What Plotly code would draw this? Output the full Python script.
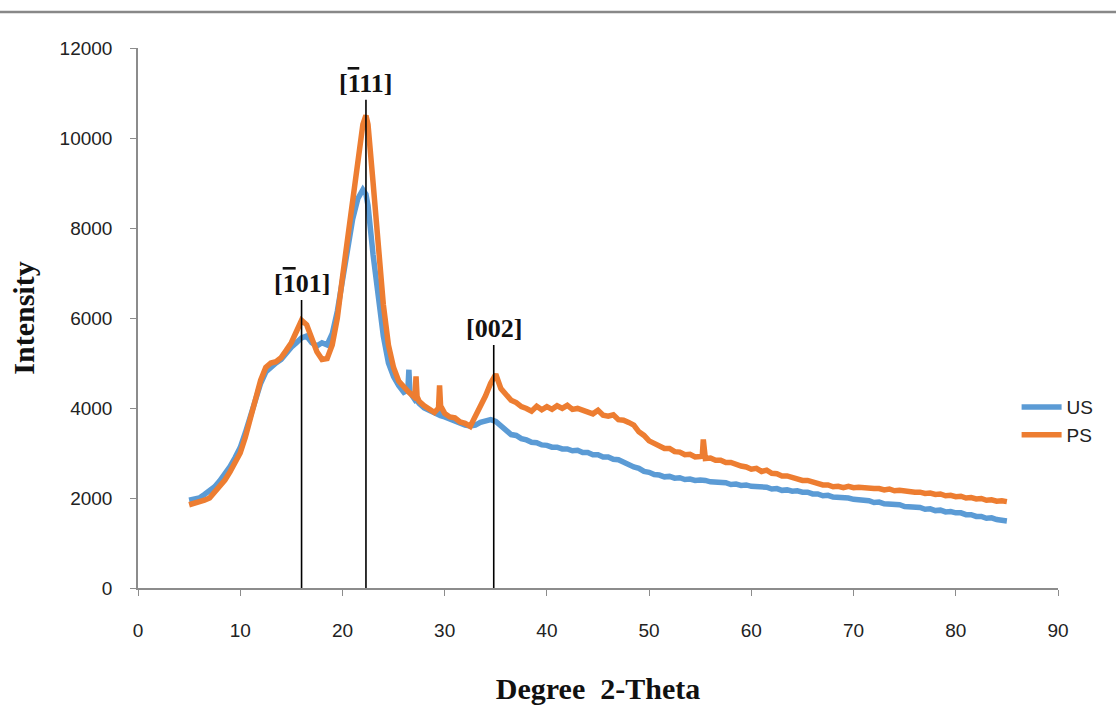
import plotly.graph_objects as go

# 2-theta positions (degrees)
two_theta = [
    5.0, 5.5, 6.0, 6.5, 7.0, 7.5, 8.0, 8.5, 9.0, 9.5,
    10.0, 10.5, 11.0, 11.5, 12.0, 12.5, 13.0, 13.5, 14.0, 14.5,
    15.0, 15.5, 16.0, 16.5, 17.0, 17.5, 18.0, 18.5, 19.0, 19.5,
    20.0, 20.5, 21.0, 21.5, 22.0, 22.3, 22.5, 23.0, 23.5, 24.0,
    24.5, 25.0, 25.5, 26.0, 26.4, 26.5, 26.6, 27.0, 27.1, 27.2,
    27.3, 27.5, 28.0, 28.5, 29.0, 29.4, 29.5, 29.6, 30.0, 30.5,
    31.0, 31.5, 32.0, 32.5, 33.0, 33.5, 34.0, 34.5, 35.0, 35.5,
    36.0, 36.5, 37.0, 37.5, 38.0, 38.5, 39.0, 39.5, 40.0, 40.5,
    41.0, 41.5, 42.0, 42.5, 43.0, 43.5, 44.0, 44.5, 45.0, 45.5,
    46.0, 46.5, 47.0, 47.5, 48.0, 48.5, 49.0, 49.5, 50.0, 50.5,
    51.0, 51.5, 52.0, 52.5, 53.0, 53.5, 54.0, 54.5, 55.0, 55.2,
    55.3, 55.4, 55.5, 56.0, 56.5, 57.0, 57.5, 58.0, 58.5, 59.0,
    59.5, 60.0, 60.5, 61.0, 61.5, 62.0, 62.5, 63.0, 63.5, 64.0,
    64.5, 65.0, 65.5, 66.0, 66.5, 67.0, 67.5, 68.0, 68.5, 69.0,
    69.5, 70.0, 70.5, 71.0, 71.5, 72.0, 72.5, 73.0, 73.5, 74.0,
    74.5, 75.0, 75.5, 76.0, 76.5, 77.0, 77.5, 78.0, 78.5, 79.0,
    79.5, 80.0, 80.5, 81.0, 81.5, 82.0, 82.5, 83.0, 83.5, 84.0,
    84.5, 85.0,
]

# Intensity of the untreated sample (US)
us_intensity = [
    1950, 1960, 2000, 2080, 2150, 2250, 2380, 2530, 2700, 2900,
    3120, 3450, 3850, 4250, 4550, 4800, 4920, 5000, 5080, 5220,
    5350, 5450, 5560, 5600, 5450, 5380, 5450, 5400, 5650, 6150,
    6800, 7500, 8200, 8650, 8850, 8750, 8500, 7400, 6400, 5600,
    5000, 4700, 4500, 4350, 4400, 4850, 4350, 4200, 4180, 4200,
    4150, 4100, 4000, 3950, 3880, 3850, 3870, 3830, 3800, 3750,
    3700, 3650, 3620, 3600, 3620, 3680, 3720, 3740, 3700, 3600,
    3510, 3410, 3390, 3320, 3290, 3240, 3230, 3180, 3170, 3130,
    3130, 3090, 3090, 3050, 3060, 3010, 3010, 2960, 2960, 2910,
    2910, 2860, 2850, 2790, 2760, 2690, 2660, 2590, 2570, 2520,
    2510, 2470, 2480, 2440, 2450, 2410, 2420, 2390, 2400, 2385,
    2400, 2375, 2390, 2360, 2360, 2330, 2340, 2300, 2310, 2280,
    2290, 2260, 2260, 2230, 2240, 2200, 2210, 2170, 2180, 2150,
    2160, 2130, 2130, 2090, 2090, 2050, 2060, 2020, 2020, 1990,
    2000, 1970, 1970, 1940, 1940, 1900, 1910, 1870, 1870, 1840,
    1850, 1810, 1810, 1780, 1790, 1750, 1760, 1720, 1730, 1690,
    1700, 1670, 1670, 1630, 1630, 1590, 1590, 1550, 1560, 1520,
    1520, 1490,
]

# Intensity of the pretreated sample (PS)
ps_intensity = [
    1850, 1880, 1900, 1950, 2000, 2120, 2250, 2400, 2580, 2780,
    3000, 3350, 3780, 4250, 4620, 4900, 5000, 5030, 5120, 5280,
    5450, 5700, 5950, 5850, 5550, 5250, 5080, 5100, 5400, 6000,
    6900, 7800, 8700, 9600, 10300, 10500, 10300, 9000, 7600, 6300,
    5400, 4900, 4600, 4450, 4380, 4350, 4330, 4250, 4300, 4700,
    4250, 4150, 4050, 3980, 3900, 4000, 4500, 4050, 3880, 3800,
    3780, 3690, 3660, 3590, 3820, 3990, 4270, 4550, 4750, 4430,
    4320, 4170, 4120, 4030, 3990, 3930, 4040, 3960, 4030, 3970,
    4050, 3990, 4060, 3970, 3990, 3950, 3920, 3870, 3950, 3840,
    3820, 3850, 3740, 3730, 3680, 3620, 3470, 3390, 3270, 3210,
    3170, 3100, 3100, 3030, 3020, 2960, 2970, 2910, 2920, 2930,
    3300, 2960, 2880, 2890, 2840, 2840, 2790, 2790, 2740, 2710,
    2690, 2640, 2660, 2590, 2620, 2550, 2540, 2490, 2490, 2450,
    2440, 2390, 2390, 2350, 2340, 2290, 2290, 2250, 2260, 2230,
    2260, 2230, 2240, 2220, 2220, 2210, 2210, 2180, 2200, 2160,
    2170, 2150, 2150, 2130, 2130, 2100, 2110, 2080, 2090, 2050,
    2060, 2030, 2040, 2000, 2010, 1980, 1990, 1950, 1960, 1930,
    1940, 1920,
]

# Indexed reflections: position, marker line height, Miller index label
peak_positions = [16.0, 22.3, 34.8]
peak_line_tops = [6400, 10850, 5400]
peak_labels = [
    "[<span style='text-decoration:overline'>1</span>01]",
    "[<span style='text-decoration:overline'>1</span>11]",
    "[002]",
]

x_ticks = [0, 10, 20, 30, 40, 50, 60, 70, 80, 90]
y_ticks = [0, 2000, 4000, 6000, 8000, 10000, 12000]

assert len(two_theta) == len(us_intensity) == len(ps_intensity)

BLUE = "#5B9BD5"
ORANGE = "#ED7D31"
AXIS_GRAY = "#8c8c8c"
TICK_FONT = dict(family="Liberation Sans Narrow, Arial Narrow, Liberation Sans, Arial", size=19, color="#222")
SERIF_BOLD = "Liberation Serif, Times New Roman, serif"

fig = go.Figure()
fig.add_trace(go.Scatter(x=two_theta, y=us_intensity, mode="lines", name="US",
                         line=dict(color=BLUE, width=5.5)))
fig.add_trace(go.Scatter(x=two_theta, y=ps_intensity, mode="lines", name="PS",
                         line=dict(color=ORANGE, width=5.5)))

# Vertical reflection markers and their labels
for pos, top, label in zip(peak_positions, peak_line_tops, peak_labels):
    fig.add_trace(go.Scatter(x=[pos, pos], y=[0, top], mode="lines",
                             line=dict(color="black", width=1.6),
                             showlegend=False, hoverinfo="skip"))
    fig.add_annotation(x=pos, y=top, text="<b>" + label + "</b>",
                       showarrow=False, yanchor="bottom", yshift=0,
                       font=dict(family=SERIF_BOLD, size=26, color="#111"))

# Rule across the top of the page
fig.add_shape(type="line", xref="paper", yref="paper",
              x0=-0.2, x1=1.2, y0=1.0667, y1=1.0667,
              line=dict(color="#888", width=2.5))

fig.update_layout(
    width=1116, height=711,
    margin=dict(l=138, r=58, t=48, b=123),
    paper_bgcolor="white", plot_bgcolor="white",
    showlegend=True,
    legend=dict(x=0.955, y=0.37, xanchor="left", yanchor="top",
                bgcolor="rgba(0,0,0,0)", font=TICK_FONT,
                tracegroupgap=10, itemwidth=40),
    xaxis=dict(range=[0, 90], tickvals=x_ticks, ticktext=[str(v) for v in x_ticks],
               showgrid=False, zeroline=False,
               showline=True, linecolor=AXIS_GRAY, linewidth=1.5,
               ticks="outside", ticklen=6, tickcolor=AXIS_GRAY,
               tickfont=TICK_FONT, ticklabelstandoff=18,
               title=dict(text="<b>Degree  2-Theta</b>", standoff=38,
                          font=dict(family=SERIF_BOLD, size=30, color="#111"))),
    yaxis=dict(range=[0, 12000], tickvals=y_ticks, ticktext=[str(v) for v in y_ticks],
               showgrid=False, zeroline=False,
               showline=True, linecolor=AXIS_GRAY, linewidth=1.5,
               ticks="outside", ticklen=6, tickcolor=AXIS_GRAY,
               tickfont=TICK_FONT, ticklabelstandoff=14,
               title=dict(text="<b>Intensity</b>", standoff=16,
                          font=dict(family=SERIF_BOLD, size=30, color="#111"))),
)

fig.write_html("out.html")
